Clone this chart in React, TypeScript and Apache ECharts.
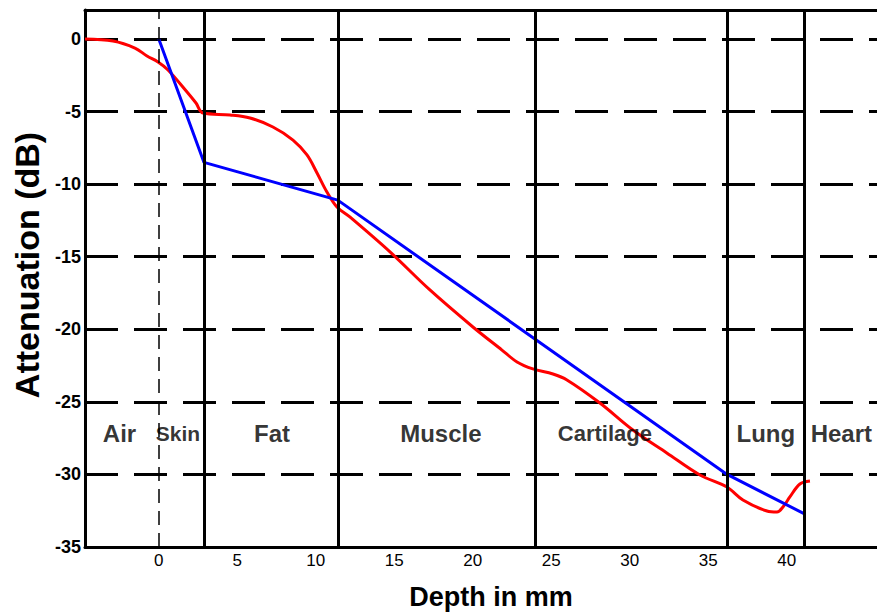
import { useEffect, useRef } from "react";
import * as echarts from "echarts";

// ---- data ----
const depthTicks = [0, 5, 10, 15, 20, 25, 30, 35, 40];
const attenuationTicks = [0, -5, -10, -15, -20, -25, -30, -35];

// tissue boundaries (mm) drawn as solid vertical lines
const boundaries = [2.88, 11.41, 23.96, 36.19, 41.09];
// skin surface (dashed vertical line)
const skinSurface = 0;

// measured attenuation (red curve)
const measuredDepth = [
  -4.7, -2.92, -1.52, -0.75, -0.05, 0.59, 1.8, 2.37, 2.82, 4.54, 5.81, 7.27, 8.55,
  9.44, 10.08, 10.71, 11.35, 12.17, 14.73, 17.27, 20.01, 21.86, 22.82, 23.83, 25.11,
  26.0, 28.1, 30.2, 32.36, 34.47, 36.19, 37.21, 38.74, 39.38, 39.76, 40.2, 40.84, 41.48,
];
const measuredAtt = [
  0, -0.14, -0.62, -1.17, -1.58, -2.13, -3.65, -4.41, -5.1, -5.23, -5.44, -6.06, -6.96,
  -7.99, -9.23, -10.54, -11.57, -12.26, -14.67, -17.29, -19.84, -21.43, -22.25, -22.73,
  -23.08, -23.49, -25.08, -26.94, -28.52, -30.04, -30.87, -31.76, -32.52, -32.59, -32.24,
  -31.55, -30.66, -30.45,
];

// model attenuation (blue polyline)
const modelDepth = [0, 2.88, 11.4, 24.0, 36.2, 41.1];
const modelAtt = [0, -8.5, -11.1, -20.7, -30.0, -32.7];

// tissue region labels
const tissueNames = ["Air", "Skin", "Fat", "Muscle", "Cartilage", "Lung", "Heart"];
const tissueLabelDepth = [-2.5, 1.22, 7.21, 17.97, 28.42, 38.67, 43.48];
const tissueLabelAtt = -27.2;

const FONT = '"Liberation Sans", Arial, Helvetica, sans-serif';
const labelSizeOverride: Record<string, number> = { Skin: 21, Cartilage: 22 };

export default function App() {
  const ref = useRef<HTMLDivElement>(null);

  useEffect(() => {
    if (!ref.current) return;
    const chart = echarts.init(ref.current, undefined, { renderer: "svg" });

    const xMin = -4.7;
    const xMax = 45.75;

    const tissueLabelStyle = (n: string) => ({
      show: true,
      position: "inside",
      formatter: "{b}",
      color: "#000000",
      textBorderWidth: 0,
      fontSize: labelSizeOverride[n] ?? 24,
      fontWeight: "bold",
      fontFamily: FONT,
    });

    const option: any = {
      animation: false,
      backgroundColor: "#ffffff",
      textStyle: { fontFamily: FONT },
      grid: { left: 85, right: 0, top: 10, bottom: 67, containLabel: false },
      xAxis: [
        {
          type: "value",
          min: xMin,
          max: xMax,
          position: "bottom",
          axisLine: { show: true, onZero: false, lineStyle: { color: "#000", width: 3 } },
          axisTick: { show: false },
          splitLine: { show: false },
          axisLabel: {
            customValues: depthTicks,
            color: "#000",
            fontSize: 17,
            margin: 5,
            fontFamily: FONT,
          },
        },
        {
          type: "value",
          min: xMin,
          max: xMax,
          position: "top",
          axisLine: { show: true, onZero: false, lineStyle: { color: "#000", width: 3 } },
          axisTick: { show: false },
          axisLabel: { show: false },
          splitLine: { show: false },
        },
      ],
      yAxis: {
        type: "value",
        min: -35,
        max: 2,
        interval: 5,
        axisLine: { show: true, onZero: false, lineStyle: { color: "#000", width: 3 } },
        axisTick: { show: false },
        axisLabel: {
          formatter: (v: number) => (attenuationTicks.includes(v) ? String(v) : ""),
          color: "#000",
          fontSize: 18,
          fontWeight: "bold",
          margin: 4,
          fontFamily: FONT,
        },
        splitLine: {
          show: true,
          lineStyle: { color: "#000", width: 3, type: [33, 16] },
        },
      },
      series: [
        {
          name: "boundaries",
          type: "line",
          data: [],
          silent: true,
          markLine: {
            silent: true,
            symbol: "none",
            label: { show: false },
            animation: false,
            data: [
              ...boundaries.map((b) => ({
                xAxis: b,
                lineStyle: { color: "#000", width: 3, type: "solid" },
              })),
              {
                xAxis: skinSurface,
                lineStyle: { color: "#000", width: 1.5, type: [14, 8] },
              },
            ],
          },
        },
        {
          name: "Measured",
          type: "line",
          data: measuredDepth.map((d, i) => [d, measuredAtt[i]]),
          showSymbol: false,
          symbol: "none",
          smooth: 0.35,
          lineStyle: { color: "#ff0000", width: 3 },
          z: 3,
        },
        {
          name: "Model",
          type: "line",
          data: modelDepth.map((d, i) => [d, modelAtt[i]]),
          showSymbol: false,
          symbol: "none",
          lineStyle: { color: "#0000ff", width: 3 },
          z: 4,
        },
        {
          name: "Tissues",
          type: "scatter",
          symbolSize: 0,
          itemStyle: { color: "#000" },
          silent: true,
          z: 5,
          data: tissueNames.map((n, i) => ({
            name: n,
            value: [tissueLabelDepth[i], tissueLabelAtt],
            label: tissueLabelStyle(n),
          })),
          label: tissueLabelStyle(""),
        },
      ],
      graphic: [
        {
          type: "text",
          x: 27,
          y: 265,
          rotation: Math.PI / 2,
          style: {
            text: "Attenuation (dB)",
            font: `bold 34px ${FONT}`,
            fill: "#000",
            align: "center",
            verticalAlign: "middle",
            textAlign: "center",
            textVerticalAlign: "middle",
          },
        },
        {
          type: "text",
          x: 491,
          y: 597,
          style: {
            text: "Depth in mm",
            font: `bold 27px ${FONT}`,
            fill: "#000",
            align: "center",
            verticalAlign: "middle",
            textAlign: "center",
            textVerticalAlign: "middle",
          },
        },
      ],
    };

    chart.setOption(option);
    return () => chart.dispose();
  }, []);

  return (
    <div
      ref={ref}
      style={{ position: "fixed", left: 0, top: 0, width: 877, height: 614, background: "#fff" }}
    />
  );
}
